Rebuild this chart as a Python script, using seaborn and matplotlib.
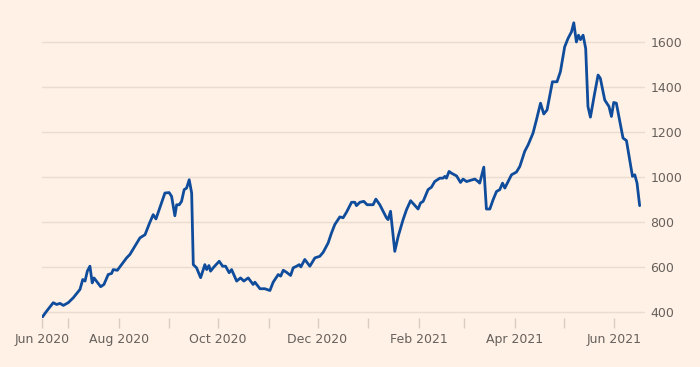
import pandas as pd
import numpy as np
import matplotlib
matplotlib.use("Agg")
import matplotlib.pyplot as plt
import matplotlib.dates as mdates
import seaborn as sns

# Series: days since 15 Jun 2020 and index value
start = pd.Timestamp("2020-06-15")
days = [0, 2.9, 6.9, 9.0, 11.0, 13.1, 16.1, 19.2, 23.3, 25.0, 26.4, 27.8, 29.4, 30.8, 31.9,
        36.0, 38.0, 40.6, 42.7, 43.7, 46.2, 51.9, 53.9, 60.1, 63.2, 66.0, 68.2, 69.9, 75.4,
        78.0, 79.5, 81.5, 82.6, 84.2, 85.6, 87.2, 88.7, 90.3, 91.8, 92.8, 94.8, 97.3, 99.9,
        101.0, 102.4, 103.4, 105.0, 108.7, 110.8, 112.6, 114.8, 116.3, 119.4, 121.8, 123.8,
        126.5, 129.5, 130.6, 133.7, 136.7, 139.8, 141.8, 144.9, 146.4, 148.0, 150.0, 152.5,
        154.1, 156.2, 157.8, 158.8, 161.2, 164.3, 167.4, 170.4, 172.5, 175.5, 177.6, 179.6,
        182.7, 184.7, 186.8, 189.9, 191.9, 192.9, 195.0, 197.4, 199.4, 203.1, 204.8, 207.2,
        211.3, 212.3, 213.8, 216.4, 218.5, 221.5, 223.6, 226.1, 230.7, 232.2, 233.8, 236.8,
        238.9, 240.9, 244.0, 246.0, 247.1, 248.1, 249.7, 251.2, 254.3, 256.7, 258.3, 260.4,
        265.5, 267.5, 268.5, 271.0, 272.6, 274.7, 276.7, 278.8, 280.8, 282.5, 283.9, 288.0,
        291.0, 293.1, 296.1, 298.2, 301.2, 303.3, 305.8, 307.8, 309.8, 313.1, 315.9, 318.0,
        320.6, 322.7, 324.8, 326.2, 327.8, 329.1, 330.3, 331.9, 333.5, 334.9, 336.4, 339.0,
        341.1, 342.5, 345.2, 347.8, 349.3, 350.7, 352.3, 356.4, 358.5, 362.2, 363.6, 365.0,
        366.6]
values = [377, 406, 443, 435, 440, 431, 443, 465, 502, 546, 539, 583, 605, 531, 553,
          514, 524, 568, 573, 590, 587, 642, 657, 731, 745, 797, 834, 815, 930,
          932, 915, 829, 878, 878, 893, 945, 952, 989, 930, 612, 598, 554, 612,
          590, 608, 583, 598, 627, 605, 605, 576, 590, 539, 553, 539,
          553, 524, 534, 505, 505, 497, 534, 568, 561, 587, 578, 564,
          598, 605, 612, 602, 635, 605, 642, 649, 667, 708, 753, 790,
          824, 820, 845, 889, 889, 874, 889, 893, 878, 878, 903, 878,
          820, 812, 849, 671, 738, 812, 856, 896, 859, 886, 893, 945,
          956, 981, 996, 996, 1004, 996, 1026, 1018, 1006, 977, 992, 981,
          992, 981, 974, 1045, 859, 859, 900, 937, 945, 974, 952, 1011,
          1023, 1048, 1115, 1144, 1196, 1255, 1329, 1281, 1299, 1424, 1424, 1469,
          1579, 1617, 1646, 1686, 1601, 1631, 1611, 1631, 1572, 1314, 1267, 1373,
          1454, 1439, 1343, 1314, 1270, 1332, 1329, 1174, 1163, 1004, 1011, 974,
          874]

y_ticks = [400, 600, 800, 1000, 1200, 1400, 1600]
x_tick_dates = ["2020-06-15", "2020-08-01", "2020-10-01", "2020-12-01",
                "2021-02-01", "2021-04-01", "2021-06-01"]
x_tick_labels = ["Jun 2020", "Aug 2020", "Oct 2020", "Dec 2020",
                 "Feb 2021", "Apr 2021", "Jun 2021"]

df = pd.DataFrame({"date": start + pd.to_timedelta(days, unit="D"), "value": values})

bg = "#FFF1E5"
sns.set_style("white", {"axes.facecolor": bg, "figure.facecolor": bg})
plt.rcParams["font.family"] = ["DejaVu Sans"]

fig = plt.figure(figsize=(7, 3.67), dpi=100)
ax = fig.add_axes([0.06, 0.1335, 0.861, 0.813])

sns.lineplot(data=df, x="date", y="value", ax=ax, color="#0F4C9C", linewidth=2.0)

ax.set_xlim(start, start + pd.Timedelta(days=369.7))
ax.set_ylim(375, 1700)

ax.yaxis.tick_right()
ax.set_yticks(y_ticks)
ax.set_yticklabels([str(v) for v in y_ticks])
ax.tick_params(axis="y", length=0, pad=4, labelsize=9, labelcolor="#66605C")
ax.grid(axis="y", color="#E9DCD0", linewidth=1)
ax.set_axisbelow(True)

ax.set_xticks(pd.to_datetime(x_tick_dates))
ax.set_xticklabels(x_tick_labels)
ax.xaxis.set_minor_locator(mdates.MonthLocator(bymonth=[7, 9, 11, 1, 3, 5]))
ax.tick_params(axis="x", which="both", length=7, width=1, color="#D9CCC1",
               pad=4, labelsize=9, labelcolor="#66605C", bottom=True)

for s in ax.spines.values():
    s.set_visible(False)
ax.set_xlabel("")
ax.set_ylabel("")

fig.savefig("out.png", dpi=100, facecolor=bg)
